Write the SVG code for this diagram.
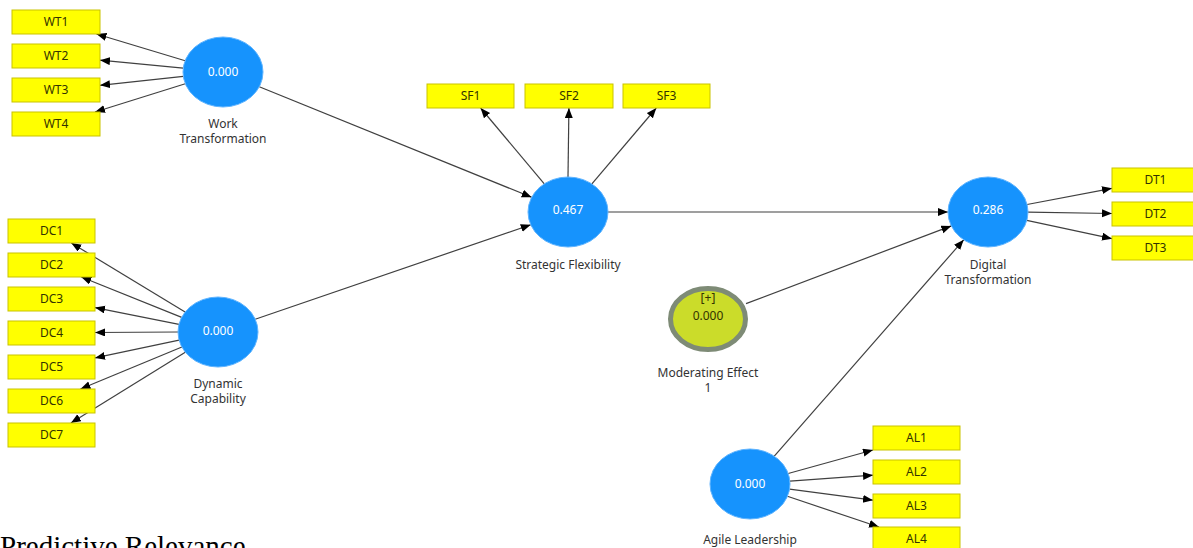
<svg xmlns="http://www.w3.org/2000/svg" width="1193" height="548" viewBox="0 0 1193 548">
<style>
.bg{fill:#ffffff}
.lv{fill:#1693fd;stroke:#5fb4ff;stroke-width:1}
.mod{fill:#cbdc2a;stroke:#7e8b76;stroke-width:5}
.ind{fill:#ffff00;stroke:#c9c300;stroke-width:1}
.t{font-family:"Noto Sans","Open Sans",sans-serif;font-size:12px;text-anchor:middle}
.val{fill:#ffffff}
.lab{fill:#333333}
.it{fill:#333300}
.con line{stroke:#404040;stroke-width:1.2;marker-end:url(#ah)}
.big{font-family:"Liberation Serif","Times New Roman",serif;font-size:29px;fill:#000}
</style>
<defs>
<marker id="ah" markerUnits="userSpaceOnUse" markerWidth="11" markerHeight="9" refX="10" refY="4" orient="auto">
<path d="M0,0 L10,4 L0,8 z" fill="#000"/>
</marker>
</defs>
<rect class="bg" x="0" y="0" width="1193" height="548"/>

<g id="connectors" class="con">
<line x1="185.2" y1="60.7" x2="96.5" y2="34"/>
<line x1="183.2" y1="68.2" x2="100" y2="60.2"/>
<line x1="183.3" y1="76.3" x2="100" y2="85.3"/>
<line x1="185.3" y1="83.7" x2="95" y2="112"/>
<line x1="185.1" y1="312.1" x2="71.3" y2="243"/>
<line x1="181.7" y1="317.4" x2="81.3" y2="277"/>
<line x1="179" y1="324.3" x2="95" y2="307.6"/>
<line x1="178" y1="332" x2="95" y2="332.5"/>
<line x1="179.1" y1="340.2" x2="95" y2="357.9"/>
<line x1="181.9" y1="347" x2="80.5" y2="389"/>
<line x1="185.3" y1="352.2" x2="70.9" y2="423"/>
<line x1="544.3" y1="183.8" x2="480.6" y2="108"/>
<line x1="568" y1="177" x2="568.9" y2="108"/>
<line x1="591.9" y1="183.9" x2="656.3" y2="108"/>
<line x1="259.3" y1="86.7" x2="531.7" y2="197.3"/>
<line x1="255.2" y1="319.2" x2="530.8" y2="224.8"/>
<line x1="608" y1="212" x2="948" y2="212"/>
<line x1="746" y1="303.6" x2="951.3" y2="225.9"/>
<line x1="774.3" y1="456.2" x2="963.7" y2="239.8"/>
<line x1="1027.1" y1="204.5" x2="1112" y2="188.3"/>
<line x1="1028" y1="212.1" x2="1112" y2="213.5"/>
<line x1="1026.8" y1="220.3" x2="1112" y2="238.7"/>
<line x1="788.2" y1="473.5" x2="873" y2="450"/>
<line x1="789.9" y1="481.1" x2="873" y2="475.2"/>
<line x1="789.6" y1="489.2" x2="873" y2="500.2"/>
<line x1="787.4" y1="496.3" x2="879" y2="527"/>
</g>

<g id="WT">
<ellipse class="lv" cx="223" cy="72" rx="40" ry="35"/>
<text class="t val" x="223" y="76">0.000</text>
<text class="t lab" x="223" y="128">Work<tspan x="223" dy="14.5">Transformation</tspan></text>
</g>
<g id="WT1"><rect class="ind" x="12" y="10" width="88" height="24"/><text class="t it" x="56" y="26">WT1</text></g>
<g id="WT2"><rect class="ind" x="12" y="44" width="88" height="24"/><text class="t it" x="56" y="60">WT2</text></g>
<g id="WT3"><rect class="ind" x="12" y="78" width="88" height="24"/><text class="t it" x="56" y="94">WT3</text></g>
<g id="WT4"><rect class="ind" x="12" y="112" width="88" height="24"/><text class="t it" x="56" y="128">WT4</text></g>

<g id="DC">
<ellipse class="lv" cx="218" cy="332" rx="40" ry="35"/>
<text class="t val" x="218" y="335">0.000</text>
<text class="t lab" x="218" y="388">Dynamic<tspan x="218" dy="15">Capability</tspan></text>
</g>
<g id="DC1"><rect class="ind" x="8" y="219" width="87" height="24"/><text class="t it" x="51.5" y="235">DC1</text></g>
<g id="DC2"><rect class="ind" x="8" y="253" width="87" height="24"/><text class="t it" x="51.5" y="269">DC2</text></g>
<g id="DC3"><rect class="ind" x="8" y="287" width="87" height="24"/><text class="t it" x="51.5" y="303">DC3</text></g>
<g id="DC4"><rect class="ind" x="8" y="321" width="87" height="24"/><text class="t it" x="51.5" y="337">DC4</text></g>
<g id="DC5"><rect class="ind" x="8" y="355" width="87" height="24"/><text class="t it" x="51.5" y="371">DC5</text></g>
<g id="DC6"><rect class="ind" x="8" y="389" width="87" height="24"/><text class="t it" x="51.5" y="405">DC6</text></g>
<g id="DC7"><rect class="ind" x="8" y="423" width="87" height="24"/><text class="t it" x="51.5" y="439">DC7</text></g>

<g id="SF">
<ellipse class="lv" cx="568" cy="212" rx="40" ry="35"/>
<text class="t val" x="568" y="214">0.467</text>
<text class="t lab" x="568" y="269">Strategic Flexibility</text>
</g>
<g id="SF1"><rect class="ind" x="427" y="84" width="87" height="24"/><text class="t it" x="470.5" y="100">SF1</text></g>
<g id="SF2"><rect class="ind" x="525" y="84" width="88" height="24"/><text class="t it" x="569" y="100">SF2</text></g>
<g id="SF3"><rect class="ind" x="623" y="84" width="87" height="24"/><text class="t it" x="666.5" y="100">SF3</text></g>

<g id="DT">
<ellipse class="lv" cx="988" cy="212" rx="40" ry="35"/>
<text class="t val" x="988" y="214">0.286</text>
<text class="t lab" x="988" y="269">Digital<tspan x="988" dy="15">Transformation</tspan></text>
</g>
<g id="DT1"><rect class="ind" x="1112" y="168" width="87" height="24"/><text class="t it" x="1155.5" y="184">DT1</text></g>
<g id="DT2"><rect class="ind" x="1112" y="202" width="87" height="24"/><text class="t it" x="1155.5" y="218">DT2</text></g>
<g id="DT3"><rect class="ind" x="1112" y="236" width="87" height="24"/><text class="t it" x="1155.5" y="252">DT3</text></g>

<g id="ME">
<ellipse class="mod" cx="708" cy="319" rx="37.5" ry="30.5"/>
<text class="t it" x="708" y="302">[+]</text>
<text class="t it" x="708" y="320">0.000</text>
<text class="t lab" x="708" y="377">Moderating Effect<tspan x="708" dy="14.5">1</tspan></text>
</g>

<g id="AL">
<ellipse class="lv" cx="750" cy="484" rx="40" ry="35"/>
<text class="t val" x="750" y="488">0.000</text>
<text class="t lab" x="750" y="544">Agile Leadership</text>
</g>
<g id="AL1"><rect class="ind" x="873" y="426" width="87" height="24"/><text class="t it" x="916.5" y="442">AL1</text></g>
<g id="AL2"><rect class="ind" x="873" y="460" width="87" height="24"/><text class="t it" x="916.5" y="476">AL2</text></g>
<g id="AL3"><rect class="ind" x="873" y="494" width="87" height="24"/><text class="t it" x="916.5" y="510">AL3</text></g>
<g id="AL4"><rect class="ind" x="873" y="527" width="87" height="24"/><text class="t it" x="916.5" y="543">AL4</text></g>

<text class="big" x="0" y="556">Predictive Relevance</text>
</svg>
